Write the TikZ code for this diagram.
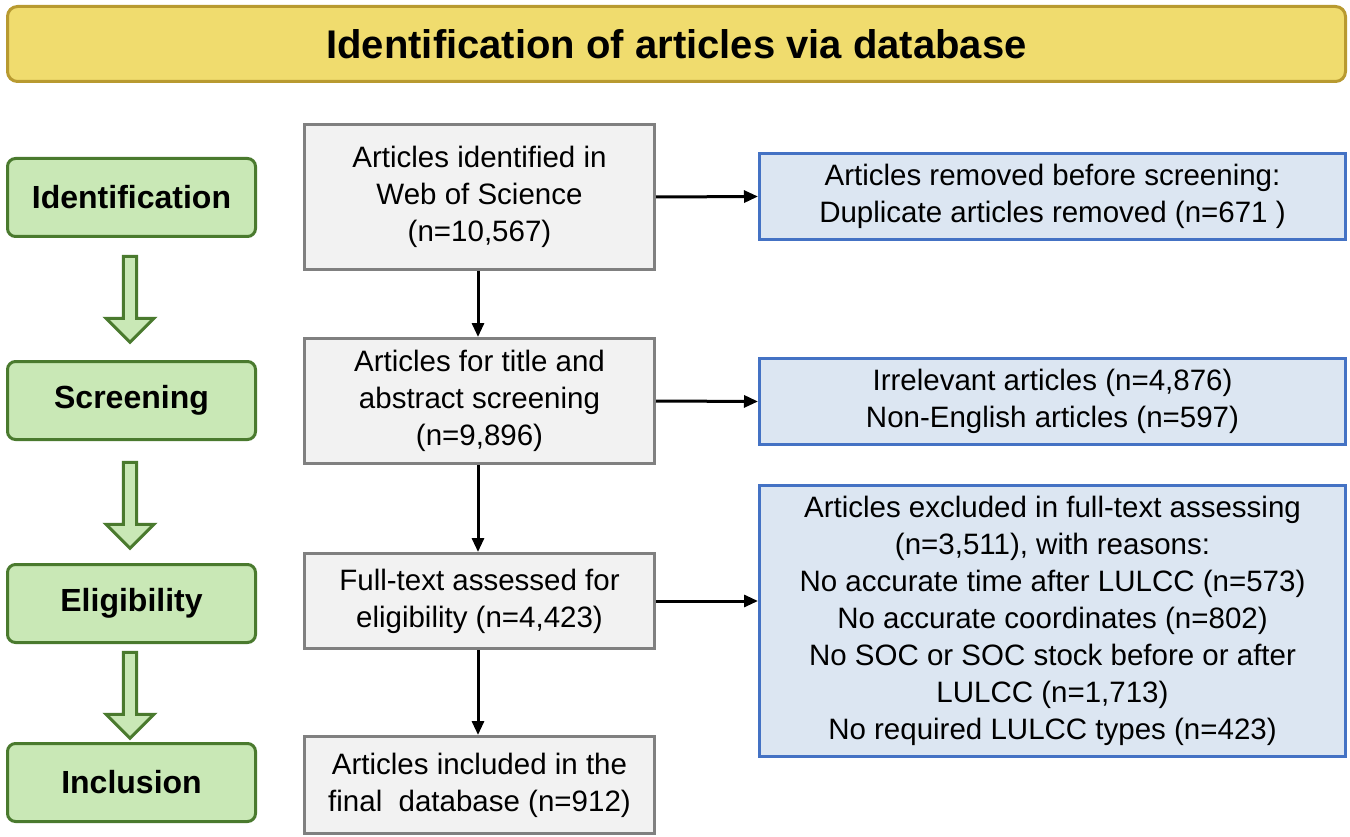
\documentclass[tikz,border=0pt]{standalone}
\usepackage{fontspec}
\setmainfont{Liberation Sans}
\usetikzlibrary{arrows.meta,shapes.arrows}
\definecolor{ttl}{HTML}{F0DC6E}\definecolor{ttlb}{HTML}{B89A30}
\definecolor{grn}{HTML}{C9E8B6}\definecolor{grnb}{HTML}{4A7A2E}
\definecolor{gry}{HTML}{F2F2F2}\definecolor{gryb}{HTML}{808080}
\definecolor{blu}{HTML}{DCE6F2}\definecolor{blub}{HTML}{4472C4}
\begin{document}
\begin{tikzpicture}[x=1pt,y=-1pt,
 stage/.style={draw=grnb,fill=grn,line width=3pt,rounded corners=8pt,minimum width=248pt,minimum height=78pt,font=\fontsize{32}{38}\selectfont\bfseries,anchor=north west},
 mid/.style={draw=gryb,fill=gry,line width=3pt,minimum width=350pt,align=center,font=\fontsize{29.5}{37}\selectfont,anchor=north west,inner sep=0pt},
 side/.style={draw=blub,fill=blu,line width=3pt,minimum width=586pt,align=center,font=\fontsize{29.5}{37}\selectfont,anchor=north west,inner sep=0pt},
 arr/.style={-{Triangle[length=14pt,width=12pt]},line width=3pt},
 harr/.style={draw=grnb,fill=grn,line width=3pt,single arrow,shape border rotate=270,minimum height=86pt,minimum width=48pt,single arrow head extend=12pt,inner sep=3pt}]
\useasboundingbox (0,0) rectangle (1350,837);
\node[draw=ttlb,fill=ttl,line width=3pt,rounded corners=10pt,minimum width=1338pt,minimum height=75pt,anchor=north west,font=\fontsize{40}{46}\selectfont\bfseries] (t) at (6,5) {Identification of articles via database};
\node[stage] (s1) at (6,157) {Identification};
\node[stage] (s2) at (6,360) {Screening};
\node[stage] (s3) at (6,563) {Eligibility};
\node[stage] (s4) at (6,742) {Inclusion};
\node[harr] (a1) at (130,296) {};
\node[harr] (a2) at (130,502) {};
\node[harr] (a3) at (130,692) {};
\node[mid,minimum height=145pt] (m1) at (303,123) {Articles identified in\\Web of Science\\(n=10,567)};
\node[mid,minimum height=125pt] (m2) at (303,337) {Articles for title and\\abstract screening\\(n=9,896)};
\node[mid,minimum height=95pt] (m3) at (303,552) {Full-text assessed for\\eligibility (n=4,423)};
\node[mid,minimum height=97pt] (m4) at (303,735) {Articles included in the\\final\ \ database (n=912)};
\node[side,minimum height=86pt] (r1) at (758,152) {Articles removed before screening:\\Duplicate articles removed (n=671 )};
\node[side,minimum height=86pt] (r2) at (758,357) {Irrelevant articles (n=4,876)\\Non-English articles (n=597)};
\node[side,minimum height=271pt] (r3) at (758,484) {Articles excluded in full-text assessing\\(n=3,511), with reasons:\\No accurate time after LULCC (n=573)\\No accurate coordinates (n=802)\\No SOC or SOC stock before or after\\LULCC (n=1,713)\\No required LULCC types (n=423)};
\draw[arr] (m1.east) -- (r1.west);
\draw[arr] (m2.east) -- (r2.west);
\draw[arr] (m3.east) -- (m3.east-|r3.west);
\draw[arr] (m1.south-|478,0) -- (m2.north-|478,0);
\draw[arr] (m2.south-|478,0) -- (m3.north-|478,0);
\draw[arr] (m3.south-|478,0) -- (m4.north-|478,0);
\end{tikzpicture}
\end{document}
